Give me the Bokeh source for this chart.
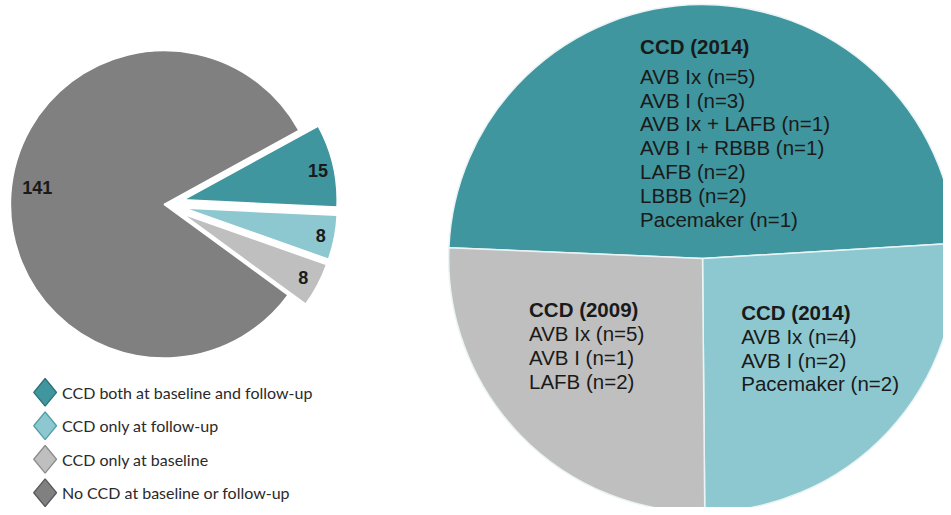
import math
from bokeh.plotting import figure
from bokeh.models import Range1d
from bokeh.core.properties import value
from bokeh.embed import file_html
from bokeh.resources import INLINE

# ---------------- data ----------------
groups = ["CCD both at baseline and follow-up", "CCD only at follow-up",
          "CCD only at baseline", "No CCD at baseline or follow-up"]
counts = [15, 8, 8, 141]
colors = ["#3F969E", "#8DC8D0", "#BFBFBF", "#808080"]
edge_colors = ["#2C6F76", "#4E9FA8", "#8C8C8C", "#5A5A5A"]

detail_counts = [15, 8, 8]          # right pie: both, follow-up only, baseline only
detail_colors = ["#3F969E", "#8DC8D0", "#BFBFBF"]

top_title = "CCD (2014)"
top_items = ["AVB Ix (n=5)", "AVB I (n=3)", "AVB Ix + LAFB (n=1)",
             "AVB I + RBBB (n=1)", "LAFB (n=2)", "LBBB (n=2)", "Pacemaker (n=1)"]
left_title = "CCD (2009)"
left_items = ["AVB Ix (n=5)", "AVB I (n=1)", "LAFB (n=2)"]
right_title = "CCD (2014)"
right_items = ["AVB Ix (n=4)", "AVB I (n=2)", "Pacemaker (n=2)"]

# ---------------- layout ----------------
W, H = 943, 507
def Y(yi):
    return 515 - yi

p = figure(width=W, height=H, x_range=Range1d(0, 951), y_range=Range1d(0, 515),
           output_backend="svg", toolbar_location=None,
           x_axis_type=None, y_axis_type=None, min_border=0)
p.outline_line_color = None
p.background_fill_color = "white"
p.border_fill_color = "white"

TXT = "#1a1a1a"

# ---------- left exploded pie ----------
L_CX, L_CY, L_R = 165, Y(207), 155
start_deg = 28.7
explode = [20, 20, 20, 0]
label_r = [139, 141, 139, 129]
label_shift = [-0.5, -0.3, -0.3, -4.0]
total = sum(counts)
cum = 0.0
for i, v in enumerate(counts):
    span = v / total * 360.0
    end = start_deg - cum
    st = end - span
    cum += span
    mid = math.radians((st + end) / 2)
    cx = L_CX + explode[i] * math.cos(mid)
    cy = L_CY + explode[i] * math.sin(mid)
    p.wedge(x=[cx], y=[cy], radius=L_R, start_angle=[st], end_angle=[end],
            start_angle_units="deg", end_angle_units="deg",
            fill_color=colors[i], line_color="white", line_width=1.5)
    la = math.radians((st + end) / 2 + label_shift[i])
    p.text(x=[cx + label_r[i] * math.cos(la)], y=[cy + label_r[i] * math.sin(la)],
           text=[str(v)], text_font=value("Liberation Sans"), text_font_style="bold",
           text_font_size="18px", text_color=TXT, text_align="center",
           text_baseline="middle")

# ---------- legend ----------
LEG_X, DW, DH = 45, 11.5, 14
leg_y = [Y(398 + 34 * i) for i in range(len(groups))]
p.patches(xs=[[LEG_X - DW, LEG_X, LEG_X + DW, LEG_X] for _ in leg_y],
          ys=[[yy, yy + DH, yy, yy - DH] for yy in leg_y],
          fill_color=colors, line_color=edge_colors, line_width=1.3)
p.text(x=[62] * len(groups), y=leg_y, text=groups, text_font=value("Lato"),
       text_font_size="16px", text_color="#2a2a2a", text_align="left",
       text_baseline="middle")

# ---------- right detail pie ----------
R_CX, R_CY, R_R = 708, Y(262), 256
r_start = 177.6
dtotal = sum(detail_counts)
cum = 0.0
for i, v in enumerate(detail_counts):
    span = v / dtotal * 360.0
    end = r_start - cum
    st = end - span
    cum += span
    p.wedge(x=[R_CX], y=[R_CY], radius=R_R, start_angle=[st], end_angle=[end],
            start_angle_units="deg", end_angle_units="deg",
            fill_color=detail_colors[i], line_color="#EAF4F5", line_width=1.5)

def block(x, y0, title, items, title_gap, step):
    p.text(x=[x], y=[Y(y0)], text=[title], text_font=value("Liberation Sans"),
           text_font_style="bold", text_font_size="20.5px", text_color=TXT,
           text_align="left", text_baseline="middle")
    ys = [Y(y0 + title_gap + step * k) for k in range(len(items))]
    p.text(x=[x] * len(items), y=ys, text=items, text_font=value("Liberation Sans"),
           text_font_size="20.5px", text_color=TXT, text_align="left",
           text_baseline="middle")

block(645, 47, top_title, top_items, 30, 24.2)
block(533, 314, left_title, left_items, 24.5, 24.2)
block(747, 317, right_title, right_items, 24.5, 23.8)

open("out.html", "w").write(file_html(p, INLINE))
